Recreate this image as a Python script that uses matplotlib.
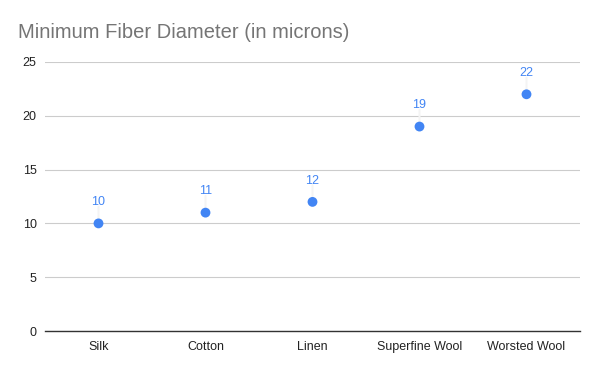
import matplotlib
matplotlib.use('Agg')
from matplotlib import pyplot as plt
import numpy as np

categories = ['Silk', 'Cotton', 'Linen', 'Superfine Wool', 'Worsted Wool']
diameters = [10, 11, 12, 19, 22]
yticks = [0, 5, 10, 15, 20, 25]

plt.rcParams['font.family'] = ['Liberation Sans', 'DejaVu Sans']

blue = '#4285F4'
fig = plt.figure(figsize=(6, 3.71), dpi=100)
ax = fig.add_axes([45 / 600, 1 - 331 / 371, 535 / 600, 269 / 371])

x = np.arange(len(categories))
ax.set_xlim(-0.5, len(categories) - 0.5)
ax.set_ylim(0, 25)
ax.set_yticks(yticks)
ax.set_xticks(x)
ax.set_xticklabels(categories)

ax.grid(axis='y', color='#cccccc', linewidth=0.8)
ax.set_axisbelow(True)
for s in ['top', 'right', 'left']:
    ax.spines[s].set_visible(False)
ax.spines['bottom'].set_color('#333333')
ax.spines['bottom'].set_linewidth(1)
ax.tick_params(axis='both', length=0, labelsize=9, labelcolor='#222222')
ax.tick_params(axis='x', pad=7)
ax.tick_params(axis='y', pad=6)

# faint leader lines from label to point
for xi, v in zip(x, diameters):
    ax.annotate('', xy=(xi, v), xytext=(0, 12), textcoords='offset points',
                arrowprops=dict(arrowstyle='-', color='#f4f4f4', lw=1.5,
                                shrinkA=0, shrinkB=4))

ax.scatter(x, diameters, s=50, color=blue, zorder=3, edgecolors='none')
for xi, v in zip(x, diameters):
    ax.annotate(str(v), xy=(xi, v), xytext=(0, 11), textcoords='offset points',
                ha='center', va='bottom', color=blue, fontsize=9)

fig.text(18 / 600, 1 - 33 / 371, 'Minimum Fiber Diameter (in microns)',
         fontsize=14.5, color='#757575', ha='left', va='center')

fig.savefig('out.png', dpi=100)
